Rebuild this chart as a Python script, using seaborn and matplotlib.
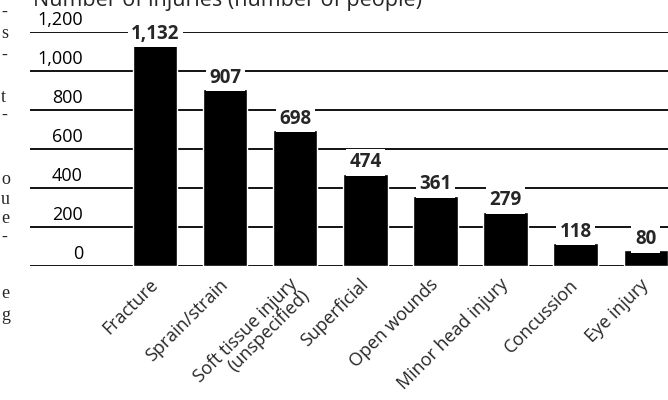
import matplotlib
matplotlib.use('Agg')
import matplotlib.pyplot as plt
import matplotlib.transforms as mtransforms
import seaborn as sns

# Data
categories = ['Fracture', 'Sprain/strain', 'Soft tissue injury\n(unspecified)',
              'Superficial', 'Open wounds', 'Minor head injury',
              'Concussion', 'Eye injury']
injuries = [1132, 907, 698, 474, 361, 279, 118, 80]
y_ticks = [0, 200, 400, 600, 800, 1000, 1200]
y_tick_labels = ['0', '200', '400', '600', '800', '1,000', '1,200']
title = 'Number of injuries (number of people)'

# stray letters from the neighbouring newspaper column (scan edge)
margin_chars = ['-', 's', '-', 't', '-', 'o', 'u', 'e', '-', 'e', 'g']
margin_y = [12, 33, 55, 97, 115, 180, 200, 218, 237, 293, 315]

sns.set_style('white')
plt.rcParams['font.family'] = ['Open Sans', 'DejaVu Sans']

fig = plt.figure(figsize=(6.68, 4.0), dpi=100)
ax = fig.add_axes([30 / 668, 134 / 400, 638 / 668, 234 / 400])

sns.barplot(x=categories, y=injuries, color='black', width=0.63,
            saturation=1, ax=ax, zorder=2)

ax.set_xlim(-1.79, 7.32)
ax.set_ylim(0, 1200)
ax.set_yticks(y_ticks)
ax.set_yticklabels([])
ax.yaxis.grid(True, color='black', linewidth=1.3)
ax.set_axisbelow(True)
ax.tick_params(length=0)
for s in ax.spines.values():
    s.set_visible(False)
ax.set_xlabel('')
ax.set_ylabel('')

# y labels sitting on top of the grid lines
trans = mtransforms.blended_transform_factory(ax.transAxes, ax.transData)
for v, lab in zip(y_ticks, y_tick_labels):
    ax.annotate(lab, xy=(0.083, v), xycoords=trans, xytext=(0, 2),
                textcoords='offset points', ha='right', va='bottom',
                fontsize=13, color='black', annotation_clip=False)

# value labels breaking the grid lines
for i, v in enumerate(injuries):
    ax.annotate(f'{v:,}', xy=(i, v), xytext=(0, 1), textcoords='offset points',
                ha='center', va='bottom', fontsize=13.5, fontweight='bold',
                bbox=dict(fc='white', ec='none', pad=2.5),
                annotation_clip=False, zorder=5)

# category labels at 45 degrees (anchored on the last line's baseline,
# so the two-line label is pushed down one line)
ax.set_xticks(range(len(categories)))
ax.set_xticklabels([])
for i, lab in enumerate(categories):
    extra = 8.5 * lab.count('\n')
    ax.annotate(lab, xy=(i, 0), xycoords='data', xytext=(2.5 + extra, -14 - extra),
                textcoords='offset points', ha='right', va='baseline',
                rotation=45, rotation_mode='anchor', multialignment='right',
                fontsize=13, annotation_clip=False, linespacing=0.95)

fig.text(33 / 668, 1 - 6 / 400, title, ha='left', va='baseline', fontsize=15.5)

for ch, y in zip(margin_chars, margin_y):
    fig.text(1 / 668, 1 - y / 400, ch, ha='left', va='center', fontsize=13,
             family=['Liberation Serif', 'DejaVu Serif'])

fig.savefig('out.png', dpi=100)
